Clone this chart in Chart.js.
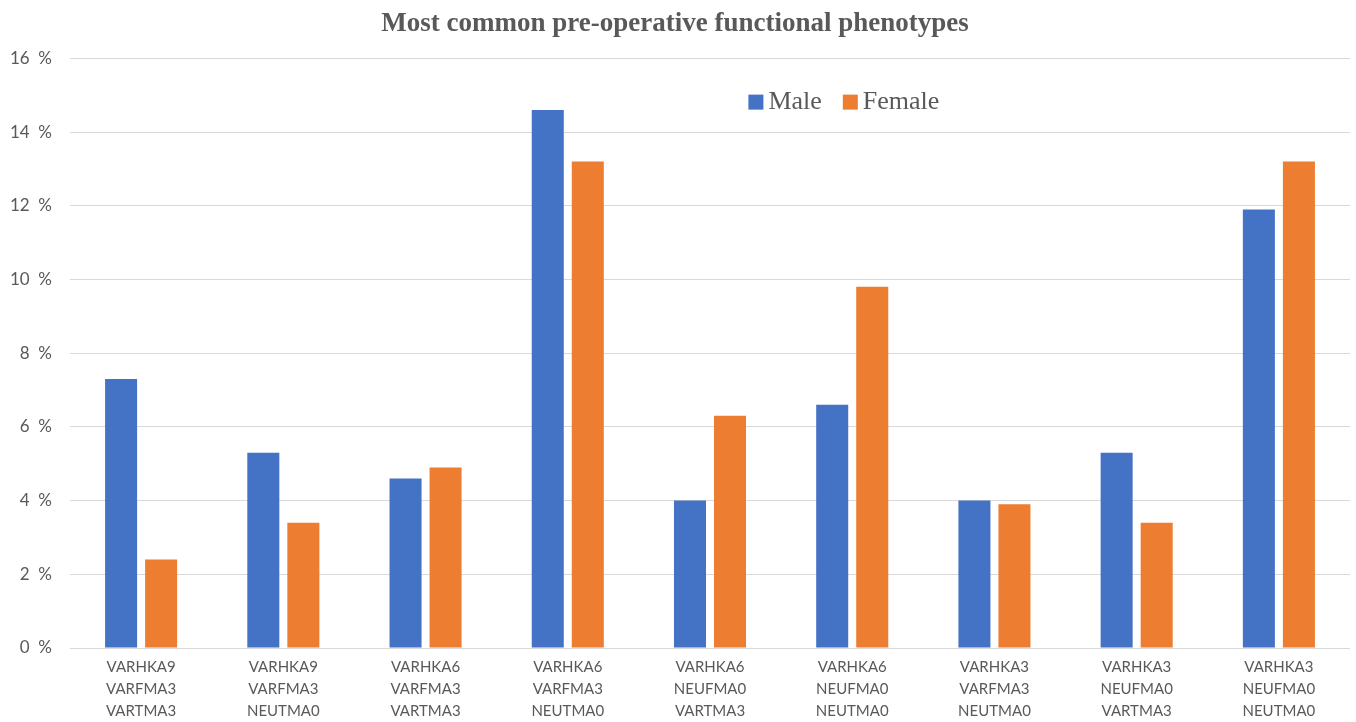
<!DOCTYPE html>
<html>
<head>
<meta charset="utf-8">
<script src="https://cdn.jsdelivr.net/npm/chart.js@4.4.1/dist/chart.umd.min.js"></script>
<style>
    html, body { margin: 0; padding: 0; background: #fff; }
    #wrap { width: 1356px; height: 722px; }
</style>
</head>
<body>
<div id="wrap"><canvas id="chart"></canvas></div>
<script>
const phenotypes = [
    [`VARHKA9`, `VARFMA3`, `VARTMA3`],
    [`VARHKA9`, `VARFMA3`, `NEUTMA0`],
    [`VARHKA6`, `VARFMA3`, `VARTMA3`],
    [`VARHKA6`, `VARFMA3`, `NEUTMA0`],
    [`VARHKA6`, `NEUFMA0`, `VARTMA3`],
    [`VARHKA6`, `NEUFMA0`, `NEUTMA0`],
    [`VARHKA3`, `VARFMA3`, `NEUTMA0`],
    [`VARHKA3`, `NEUFMA0`, `VARTMA3`],
    [`VARHKA3`, `NEUFMA0`, `NEUTMA0`]
];
const male = [7.3, 5.3, 4.6, 14.6, 4.0, 6.6, 4.0, 5.3, 11.9];
const female = [2.4, 3.4, 4.9, 13.2, 6.3, 9.8, 3.9, 3.4, 13.2];
const yTicks = [0, 2, 4, 6, 8, 10, 12, 14, 16];

const grey = `#595959`;
const blue = `#4472C4`;
const orange = `#ED7D31`;

// legend sits inside the plot area, so draw it ourselves
const innerLegend = {
    id: `innerLegend`,
    afterDraw(chart, args, opts) {
        const { ctx, chartArea } = chart;
        let x = chartArea.left + opts.x * (chartArea.right - chartArea.left);
        const y = chartArea.top + opts.y * (chartArea.bottom - chartArea.top);
        ctx.save();
        ctx.font = `26px "Liberation Serif", "Times New Roman", serif`;
        ctx.textBaseline = `middle`;
        chart.data.datasets.forEach(ds => {
            ctx.fillStyle = ds.backgroundColor;
            ctx.fillRect(x, y - 8, 15, 15);
            x += 20;
            ctx.fillStyle = grey;
            ctx.fillText(ds.label, x, y);
            x += ctx.measureText(ds.label).width + 21;
        });
        ctx.restore();
    }
};

const config = {
    type: `bar`,
    data: {
        labels: phenotypes,
        datasets: [
            { label: `Male`, data: male, backgroundColor: blue },
            { label: `Female`, data: female, backgroundColor: orange }
        ]
    },
    options: {
        animation: false,
        responsive: true,
        maintainAspectRatio: false,
        layout: { padding: { left: 0, right: 6, bottom: 0 } },
        categoryPercentage: 0.563,
        barPercentage: 0.8,
        plugins: {
            legend: { display: false },
            tooltip: { enabled: false },
            title: {
                display: true,
                text: `Most common pre-operative functional phenotypes`,
                color: grey,
                font: { family: `"Liberation Serif", "Times New Roman", serif`, size: 27, weight: `bold` },
                padding: { top: 8, bottom: 18 }
            },
            innerLegend: { x: 0.53, y: 0.075 }
        },
        scales: {
            x: {
                grid: { display: false },
                border: { display: false },
                afterFit: axis => { axis.height = 74; },
                ticks: {
                    color: grey,
                    font: { family: `Lato, "Open Sans", sans-serif`, size: 15, lineHeight: 1.47 },
                    padding: 0,
                    maxRotation: 0,
                    autoSkip: false
                }
            },
            y: {
                min: 0,
                max: 16,
                afterBuildTicks: axis => { axis.ticks = yTicks.map(v => ({ value: v })); },
                afterFit: axis => { axis.width = 70; },
                grid: { color: `#d9d9d9`, drawTicks: false, lineWidth: 1 },
                border: { display: false },
                ticks: {
                    color: grey,
                    font: { family: `Lato, "Open Sans", sans-serif`, size: 17 },
                    padding: 18,
                    callback: v => `${v}  %`
                }
            }
        }
    },
    plugins: [innerLegend]
};

new Chart(document.getElementById(`chart`), config);
</script>
</body>
</html>
